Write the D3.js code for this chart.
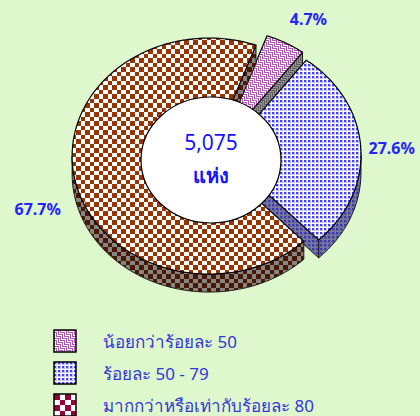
<!DOCTYPE html>
<html>
<head>
<meta charset="utf-8">
<script src="https://cdn.jsdelivr.net/npm/d3@7"></script>
<style>
  body { margin: 0; background: #def7cc; }
  svg { display: block; }
</style>
</head>
<body>
<svg id="chart" width="420" height="416"></svg>
<script>
// data
const categories = ["น้อยกว่าร้อยละ 50", "ร้อยละ 50 - 79", "มากกว่าหรือเท่ากับร้อยละ 80"]
const percents = [4.7, 27.6, 67.7]
const totalText = "5,075"
const unitText = "แห่ง"

const font = "Tahoma, 'Noto Sans', 'DejaVu Sans', sans-serif"
const svg = d3.select("#chart")
const defs = svg.append("defs")

// pie geometry (tilted 3d look)
const cx = 215, cy = 155, rx = 137, ry = 118, depth = 18
const tilt = ry / rx
const explode = [11, 9, 6]
const startDeg = 20
const labelNudge = [[10, 2], [2, 8], [-6, 29]]

// ---- patterns ----
function bitmapPattern(id, rows, on, off) {
  let n = rows.length
  let p = defs.append("pattern").attr("id", id)
    .attr("patternUnits", "userSpaceOnUse")
    .attr("width", rows[0].length).attr("height", n)
  p.append("rect").attr("width", rows[0].length).attr("height", n).attr("fill", off)
  rows.forEach((r, y) => {
    r.split("").forEach((ch, x) => {
      if (ch === "X") p.append("rect").attr("x", x).attr("y", y).attr("width", 1).attr("height", 1).attr("fill", on)
    })
  })
}

function checkerPattern(id, bounds, c1, c2) {
  let size = bounds[bounds.length - 1]
  let p = defs.append("pattern").attr("id", id)
    .attr("patternUnits", "userSpaceOnUse")
    .attr("width", size).attr("height", size)
  p.append("rect").attr("width", size).attr("height", size).attr("fill", c2)
  for (let i = 0; i < bounds.length - 1; i++) {
    for (let j = 0; j < bounds.length - 1; j++) {
      if ((i + j) % 2 === 0) {
        p.append("rect")
          .attr("x", bounds[i]).attr("y", bounds[j])
          .attr("width", bounds[i + 1] - bounds[i]).attr("height", bounds[j + 1] - bounds[j])
          .attr("fill", c1)
      }
    }
  }
}

function dotPattern(id, bg, halo, dot) {
  let p = defs.append("pattern").attr("id", id)
    .attr("patternUnits", "userSpaceOnUse")
    .attr("width", 4).attr("height", 4)
  p.append("rect").attr("width", 4).attr("height", 4).attr("fill", bg)
  p.append("rect").attr("x", 0).attr("y", 0).attr("width", 3).attr("height", 3).attr("fill", halo)
  p.append("rect").attr("x", 0).attr("y", 0).attr("width", 2).attr("height", 2).attr("fill", dot)
}

const weave = [
  "XXXXX.X.",
  "....X.X.",
  "XXX.X.XX",
  "..X.X...",
  "X.X.XXXX",
  "X.X.....",
  "X.XXXXX.",
  "X.....X."
]

bitmapPattern("pinkTop", weave, "#b055b4", "#ffffff")
bitmapPattern("pinkSide", weave, "#5f5f5f", "#959595")
dotPattern("blueTop", "#ffffff", "#bcbcff", "#4040ff")
dotPattern("blueSide", "#7a7a9c", "#626296", "#3a3ab8")
checkerPattern("brownTop", [0, 4, 9, 13, 18], "#993300", "#ffffff")
checkerPattern("brownSide", [0, 4, 9, 13, 18], "#4a1800", "#858585")
checkerPattern("legendBrown", [0, 6, 11, 17, 22], "#99003a", "#ffffff")

const topFill = ["url(#pinkTop)", "url(#blueTop)", "url(#brownTop)"]
const sideFill = ["url(#pinkSide)", "url(#blueSide)", "url(#brownSide)"]
const legendFill = ["url(#pinkTop)", "url(#blueTop)", "url(#legendBrown)"]

// ---- pie ----
const pie = d3.pie().sort(null)
  .startAngle(startDeg * Math.PI / 180)
  .endAngle((startDeg + 360) * Math.PI / 180)
const arcs = pie(percents)

function pt(c, a, dy) {
  return [c[0] + rx * Math.sin(a), c[1] - ry * Math.cos(a) + (dy || 0)]
}

function arcPoints(c, a0, a1, dy) {
  let n = Math.max(2, Math.ceil(Math.abs(a1 - a0) / 0.02))
  return d3.range(n + 1).map(i => pt(c, a0 + (a1 - a0) * i / n, dy))
}

const line = d3.line()

const g = svg.append("g")

arcs.forEach((d, i) => {
  let mid = (d.startAngle + d.endAngle) / 2
  let c = [cx + explode[i] * Math.sin(mid), cy - explode[i] * Math.cos(mid) * tilt]
  let sg = g.append("g").attr("class", "slice")

  // front outer wall: parts of the arc where cos(a) < 0
  for (let k = 0; k < 2; k++) {
    let lo = Math.max(d.startAngle, Math.PI / 2 + 2 * Math.PI * k)
    let hi = Math.min(d.endAngle, 3 * Math.PI / 2 + 2 * Math.PI * k)
    if (hi > lo) {
      let top = arcPoints(c, lo, hi, 0)
      let bot = arcPoints(c, hi, lo, depth)
      sg.append("path")
        .attr("d", line(top.concat(bot)) + "Z")
        .attr("fill", sideFill[i])
        .attr("stroke", "#1a1a1a").attr("stroke-width", 1)
    }
  }

  // radial walls facing the viewer
  let walls = []
  if (Math.sin(d.endAngle) > 0) walls.push(d.endAngle)
  if (Math.sin(d.startAngle) < 0) walls.push(d.startAngle)
  walls.forEach(a => {
    let e = pt(c, a, 0)
    sg.append("path")
      .attr("d", line([c, e, [e[0], e[1] + depth], [c[0], c[1] + depth]]) + "Z")
      .attr("fill", sideFill[i])
      .attr("stroke", "#1a1a1a").attr("stroke-width", 1)
  })

  // top face
  sg.append("path")
    .attr("d", line([c].concat(arcPoints(c, d.startAngle, d.endAngle, 0))) + "Z")
    .attr("fill", topFill[i])
    .attr("stroke", "#000").attr("stroke-width", 1.2)
    .attr("stroke-linejoin", "round")

  // percentage label
  let lx = cx + 175 * Math.sin(mid) + labelNudge[i][0]
  let ly = cy - 150 * Math.cos(mid) + labelNudge[i][1]
  svg.append("text")
    .attr("x", lx).attr("y", ly)
    .attr("text-anchor", "middle")
    .attr("font-family", font).attr("font-size", 16).attr("font-weight", "bold")
    .attr("fill", "#2323ff")
    .text(d3.format(".1f")(d.data) + "%")
})

// centre hole with total
svg.append("ellipse")
  .attr("cx", cx - 4).attr("cy", cy + 5)
  .attr("rx", 70).attr("ry", 63)
  .attr("fill", "#fff").attr("stroke", "#000").attr("stroke-width", 1.2)

svg.append("text")
  .attr("x", cx - 4).attr("y", cy - 5)
  .attr("text-anchor", "middle")
  .attr("font-family", font).attr("font-size", 21)
  .attr("fill", "#1414ff")
  .text(totalText)

svg.append("text")
  .attr("x", cx - 4).attr("y", cy + 28)
  .attr("text-anchor", "middle")
  .attr("font-family", font).attr("font-size", 20).attr("font-weight", "bold")
  .attr("fill", "#1414ff")
  .text(unitText)

// ---- legend ----
const legend = svg.append("g").attr("id", "legend")
const rows = legend.selectAll("g")
  .data(categories)
  .enter()
  .append("g")
  .attr("transform", (d, i) => "translate(54," + (330 + i * 32) + ")")

rows.append("rect")
  .attr("width", 22).attr("height", 22)
  .attr("fill", (d, i) => legendFill[i])
  .attr("stroke", "#000").attr("stroke-width", 1.5)

rows.append("text")
  .attr("x", 49).attr("y", 18)
  .attr("font-family", font).attr("font-size", 17)
  .attr("fill", "#3535d8")
  .text(d => d)
</script>
</body>
</html>
